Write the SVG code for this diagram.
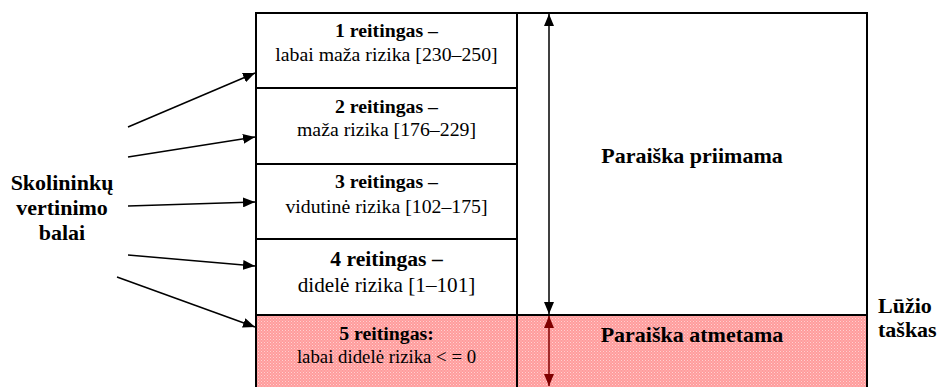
<svg xmlns="http://www.w3.org/2000/svg" width="938" height="387" viewBox="0 0 938 387">
<defs>
<pattern id="dots" width="3" height="3" patternUnits="userSpaceOnUse">
<rect width="3" height="3" fill="#ff9c9c"/>
<rect x="0" y="0" width="1" height="1" fill="#ffd0d0"/>
<rect x="1.5" y="1.5" width="1" height="1" fill="#ffc4c4"/>
</pattern>
<marker id="ah" viewBox="0 0 12 10" refX="12" refY="5" markerWidth="12" markerHeight="10" markerUnits="userSpaceOnUse" orient="auto-start-reverse">
<path d="M0,0 L12,5 L0,10 z" fill="#000"/>
</marker>
<marker id="ahr" viewBox="0 0 12 10" refX="12" refY="5" markerWidth="12" markerHeight="10" markerUnits="userSpaceOnUse" orient="auto-start-reverse">
<path d="M0,0 L12,5 L0,10 z" fill="#800000"/>
</marker>
</defs>
<style>
.box{fill:#fff;stroke:#000;stroke-width:2}
.pink{fill:url(#dots);stroke:#000;stroke-width:2}
.t{font-family:"Liberation Serif","Times New Roman",serif;font-size:19.8px;text-anchor:middle;fill:#000}
.b{font-weight:bold}
.big{font-family:"Liberation Serif","Times New Roman",serif;font-size:22px;font-weight:bold;fill:#000}
.con{stroke:#000;stroke-width:1.5;fill:none;marker-end:url(#ah)}
</style>
<g id="column-right">
<rect x="517" y="13" width="350" height="302" class="box"/>
<rect x="517" y="315" width="350" height="80" class="pink"/>
</g>
<g id="r1"><rect x="256" y="13" width="261" height="75" class="box"/>
<text class="t b" x="386.5" y="37">1 reitingas –</text>
<text class="t" x="386.5" y="61">labai maža rizika [230–250]</text></g>
<g id="r2"><rect x="256" y="88" width="261" height="76" class="box"/>
<text class="t b" x="386.5" y="113">2 reitingas –</text>
<text class="t" x="386.5" y="136">maža rizika [176–229]</text></g>
<g id="r3"><rect x="256" y="164" width="261" height="75" class="box"/>
<text class="t b" x="386.5" y="188">3 reitingas –</text>
<text class="t" x="386.5" y="213">vidutinė rizika [102–175]</text></g>
<g id="r4"><rect x="256" y="239" width="261" height="76" class="box"/>
<text class="t b" x="386.5" y="266" style="font-size:21.6px">4 reitingas –</text>
<text class="t" x="386.5" y="292" style="font-size:21.2px">didelė rizika [1–101]</text></g>
<g id="r5"><rect x="256" y="315" width="261" height="80" class="pink"/>
<text class="t b" x="386.5" y="340">5 reitingas:</text>
<text class="t" x="386.5" y="363" style="font-size:18.8px">labai didelė rizika &lt; = 0</text></g>
<g id="accept"><text class="big" x="692" y="163" text-anchor="middle">Paraiška priimama</text></g>
<g id="reject"><text class="big" x="692" y="342" text-anchor="middle">Paraiška atmetama</text></g>
<g id="source"><text class="big" text-anchor="middle" x="62" y="190">Skolininkų</text>
<text class="big" text-anchor="middle" x="62" y="215">vertinimo</text>
<text class="big" text-anchor="middle" x="62" y="240">balai</text></g>
<g id="breakpoint"><text class="big" x="878" y="313">Lūžio</text>
<text class="big" x="878" y="337">taškas</text></g>
<g id="connectors">
<line class="con" x1="128" y1="127" x2="255" y2="73"/>
<line class="con" x1="128" y1="157" x2="255" y2="137"/>
<line class="con" x1="128" y1="206" x2="255" y2="202"/>
<line class="con" x1="128" y1="255" x2="255" y2="266"/>
<line class="con" x1="117" y1="277" x2="255" y2="327"/>
<line x1="549" y1="14" x2="549" y2="314" stroke="#000" stroke-width="1.5" marker-start="url(#ah)" marker-end="url(#ah)"/>
<line x1="549" y1="316" x2="549" y2="386" stroke="#800000" stroke-width="1.5" marker-start="url(#ahr)" marker-end="url(#ahr)"/>
</g>
</svg>
